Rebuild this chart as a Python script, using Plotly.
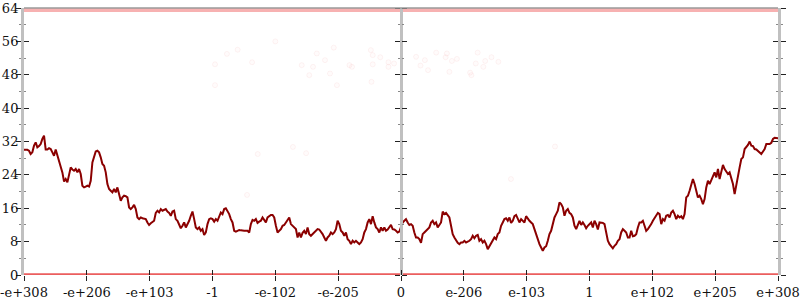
import numpy as np
import plotly.graph_objects as go

# ---- data ----
tick_positions = [-6, -5, -4, -3, -2, -1, 0, 1, 2, 3, 4, 5, 6]
tick_labels = ["-e+308", "-e+206", "-e+103", "-1", "-e-102", "-e-205", "0",
               "e-206", "e-103", "1", "e+102", "e+205", "e+308"]
y_ticks = [0, 8, 16, 24, 32, 40, 48, 56, 64]

line_seg1 = [30.0, 30.0, 30.0, 29.8, 29.0, 29.4, 31.0, 31.8, 30.6, 30.9, 31.4, 32.6, 33.4, 30.1, 30.1,
             30.4, 30.2, 29.4, 28.6, 30.1, 28.6, 27.2, 26.1, 24.6, 22.4, 23.0, 22.2, 23.8, 25.8, 25.3,
             25.0, 25.4, 24.6, 25.4, 24.2, 21.4, 21.0, 21.2, 21.4, 21.2, 22.6, 27.0, 28.2, 29.6, 29.8,
             29.4, 28.2, 26.6, 26.2, 24.6, 21.8, 20.6, 20.2, 19.8, 20.6, 19.8, 21.0, 19.4, 17.8, 18.6,
             19.0, 18.9, 18.6, 16.2, 15.8, 16.2, 16.8, 15.8, 13.8, 13.4, 13.8, 13.6, 13.4, 13.4, 12.6,
             12.0, 12.4, 12.8, 13.0, 14.9, 15.4, 15.0, 15.8, 15.4, 15.6, 15.8, 15.2, 14.9, 14.2, 15.2,
             15.4, 13.4, 13.0, 12.2, 11.2, 11.8, 12.6, 11.4, 12.2, 13.0, 14.2, 15.2, 13.4, 11.4, 11.0,
             11.4, 10.6, 11.0, 9.6, 10.2, 12.2, 13.4, 13.6, 13.4, 12.8]
line_seg2 = [13.4, 13.0, 13.8, 15.0, 14.6, 15.8, 16.0, 15.4, 14.6, 13.4, 12.6, 10.6, 10.4, 10.6, 10.8,
             10.7, 10.6, 10.6, 10.6, 10.6, 10.2, 12.2, 13.2, 13.0, 13.4, 12.5, 12.8, 13.0, 13.8, 13.3,
             12.6, 13.8, 14.2, 14.4, 14.4, 13.8, 11.8, 10.2, 10.6, 11.0, 11.8, 12.0, 12.6, 13.4, 13.8,
             12.2, 11.8, 11.4, 11.0, 9.0, 10.2, 9.0, 10.1, 10.6, 9.8, 11.4, 9.8, 9.4, 9.8, 10.2,
             10.6, 11.0, 10.9, 10.4, 9.8, 9.0, 8.2, 9.0, 9.4, 10.2, 9.8, 10.2, 11.0, 13.0, 12.2,
             10.6, 10.2, 9.4, 10.2, 8.6, 8.2, 7.4, 8.2, 7.8, 8.2, 7.8, 7.4, 7.8, 8.6, 10.2,
             11.0, 12.6, 13.4, 12.2, 14.1, 12.6, 11.4, 11.0, 10.2, 11.4, 10.6, 11.4, 10.6, 10.9, 11.4,
             12.0, 11.0, 10.9, 10.6, 10.2, 10.4, 11.4, 12.6, 13.0]
line_seg3 = [13.4, 12.6, 12.0, 12.2, 11.8, 10.2, 9.0, 9.0, 8.6, 7.7, 9.8, 10.2, 10.6, 11.0, 11.4,
             12.6, 13.0, 12.2, 12.6, 11.4, 12.2, 12.6, 15.2, 14.6, 14.9, 14.2, 13.8, 11.8, 9.8, 9.0,
             8.2, 7.7, 7.4, 7.8, 7.8, 8.2, 7.8, 8.0, 8.2, 8.6, 9.4, 8.8, 9.4, 9.6, 8.2,
             8.6, 7.8, 8.2, 7.4, 6.2, 7.0, 7.8, 8.6, 9.0, 8.6, 9.8, 10.2, 11.8, 12.6, 13.4,
             13.6, 13.0, 13.8, 12.5, 13.0, 14.1, 14.4, 13.4, 12.6, 13.4, 13.0, 12.6, 14.1, 13.4, 13.0,
             12.6, 12.2, 11.0, 9.8, 8.2, 7.4, 6.6, 5.8, 6.6, 6.9, 8.2, 9.8, 10.6, 12.6, 13.8,
             14.6, 15.4, 17.4, 17.0, 16.2, 14.2, 15.4, 15.8, 14.9, 14.6, 13.8, 11.8, 11.0, 12.2, 13.0,
             12.0, 12.6, 12.0, 11.2, 11.8, 12.2, 12.6, 11.4]
line_seg4 = [13.0, 12.2, 10.9, 12.6, 12.6, 12.5, 12.2, 10.2, 8.2, 7.4, 6.9, 6.4, 7.0, 7.4, 8.2,
             8.6, 10.2, 11.0, 10.6, 10.2, 9.0, 9.0, 10.6, 9.3, 9.4, 9.8, 11.4, 12.6, 12.6, 13.0,
             11.8, 10.6, 11.0, 11.8, 12.2, 13.0, 13.6, 14.2, 14.9, 14.6, 12.2, 13.4, 13.0, 14.2, 14.4,
             13.8, 15.0, 15.4, 14.6, 13.4, 14.2, 13.8, 14.1, 13.4, 14.6, 18.6, 19.0, 20.2, 21.4, 23.0,
             21.8, 19.8, 18.6, 19.0, 18.2, 17.0, 18.2, 21.0, 22.6, 21.8, 22.6, 23.4, 24.6, 23.4, 25.4,
             23.0, 24.6, 26.4, 25.4, 24.6, 24.2, 24.6, 23.0, 21.8, 19.4, 21.8, 24.2, 25.8, 27.8, 28.2,
             30.2, 30.6, 31.2, 32.0, 31.0, 30.9, 30.2, 30.1, 29.8, 29.4, 29.0, 29.6, 30.2, 31.4, 31.4,
             31.4, 31.7, 32.6, 32.9, 32.9, 32.8]
line_values = line_seg1 + line_seg2 + line_seg3 + line_seg4

# sparse faint points (x in axis units, y values)
pts_x = [-1.34, -1.07, -1.21, -1.58, -1.40, -1.46, -1.13, -1.02, -0.82, -0.78, -0.48, -0.45,
         -0.33, -0.45, -0.20, -0.20, -0.11, -0.47, 0.24, 0.38, 0.31, 0.43, 0.56, 0.73, 0.71,
         0.81, 0.89, 0.77, 1.10, 1.12, 1.19, 1.22, 1.34, 1.31, 1.44, 1.55,
         -2.28, -1.72, -1.51, -2.45, 1.75, 2.45, -2.96, -2.77, -2.37, -2.96, -2.6, -2.0]
pts_y = [53.1, 54.5, 51.5, 50.3, 49.9, 47.9, 48.3, 45.5, 50.3, 49.9, 53.9, 52.7,
         52.2, 50.5, 51.0, 49.9, 50.7, 46.3, 52.3, 51.5, 50.2, 49.1, 53.3, 53.1, 52.2,
         51.3, 51.8, 48.7, 48.5, 47.9, 50.7, 53.3, 51.3, 49.9, 52.2, 51.1,
         29.0, 30.7, 29.2, 19.2, 23.0, 30.8, 50.5, 53.0, 51.0, 45.5, 54.0, 56.0]

band_x = [-6, 6]
band_bottom_y = [0, 0]
band_top_y = [63.55, 63.55]

# ---- figure ----
n = len(line_values)
line_x = np.linspace(-6, 6, n)

FONT = "DejaVu Serif, Liberation Serif, serif"
TICKFONT = dict(family=FONT, size=13, color="#111111")
fig = go.Figure()

fig.add_trace(go.Scatter(x=band_x, y=band_bottom_y, mode="lines",
                         line=dict(color="rgba(228,40,40,0.75)", width=3.5),
                         hoverinfo="skip", showlegend=False))
fig.add_trace(go.Scatter(x=band_x, y=band_top_y, mode="lines",
                         line=dict(color="rgba(235,60,60,0.4)", width=4),
                         hoverinfo="skip", showlegend=False))
fig.add_trace(go.Scatter(x=pts_x, y=pts_y, mode="markers",
                         marker=dict(size=5, color="rgba(245,120,120,0.03)",
                                     line=dict(color="rgba(235,110,110,0.08)", width=1)),
                         hoverinfo="skip", showlegend=False))
fig.add_trace(go.Scatter(x=line_x, y=line_values, mode="lines",
                         line=dict(color="#8b0000", width=2),
                         showlegend=False))

for xa, ya in [("x2", "y2"), ("x", "y3"), ("x", "y4"), ("x", "y5"), ("x", "y6"), ("x", "y7")]:
    fig.add_trace(go.Scatter(x=[], y=[], xaxis=xa, yaxis=ya, showlegend=False))

axis_line = "#c0c0c0"
major_col = "#222222"
minor_col = "#888888"

def minor(side):
    return dict(dtick=4, tick0=0, ticks=side, ticklen=2, tickcolor=minor_col, tickwidth=1)

def yax(**kw):
    base = dict(range=[0, 64], tickvals=y_ticks, showgrid=False, zeroline=False,
                ticklen=5, tickwidth=1, tickcolor=major_col, fixedrange=True,
                automargin=False, tickfont=TICKFONT)
    base.update(kw)
    return base

fig.update_layout(
    width=800, height=300,
    margin=dict(l=24, r=22, t=8, b=25, autoexpand=False),
    paper_bgcolor="white", plot_bgcolor="white",
    font=dict(family=FONT, size=13, color="#111111"),
    xaxis=dict(range=[-6, 6], tickvals=tick_positions, ticktext=tick_labels,
               ticks="outside", ticklen=5, tickcolor=major_col, tickwidth=1,
               tickfont=TICKFONT, automargin=False,
               showgrid=False, zeroline=False, showline=False, fixedrange=True),
    xaxis2=dict(range=[-6, 6], overlaying="x", anchor="y", side="bottom",
                tickvals=tick_positions, ticks="inside", ticklen=5,
                tickcolor=major_col, tickwidth=1, showticklabels=False, automargin=False,
                showgrid=False, zeroline=False, showline=False, fixedrange=True),
    yaxis=yax(ticks="outside", showline=True, linecolor=axis_line, linewidth=3,
              ticklabelstandoff=-5, minor=minor("outside")),
    yaxis2=yax(overlaying="y", anchor="x2", ticks="", showticklabels=False, showline=False),
    yaxis3=yax(overlaying="y", anchor="x", side="left", ticks="inside", showticklabels=False,
               showline=False, minor=minor("inside")),
    yaxis4=yax(overlaying="y", anchor="x", side="right", ticks="outside", showticklabels=False,
               showline=True, linecolor=axis_line, linewidth=3, minor=minor("outside")),
    yaxis5=yax(overlaying="y", anchor="x", side="right", ticks="inside", showticklabels=False,
               showline=False, minor=minor("inside")),
    yaxis6=yax(overlaying="y", anchor="free", position=0.5, side="left", ticks="outside",
               showticklabels=False, showline=True, linecolor=axis_line, linewidth=3,
               minor=minor("outside")),
    yaxis7=yax(overlaying="y", anchor="free", position=0.5, side="right", ticks="outside",
               showticklabels=False, showline=False, minor=minor("outside")),
    shapes=[dict(type="line", xref="paper", yref="paper", x0=0, x1=1, y0=1, y1=1,
                 line=dict(color="#9a9a9a", width=1.5), layer="above")],
)

fig.write_html("out.html")
